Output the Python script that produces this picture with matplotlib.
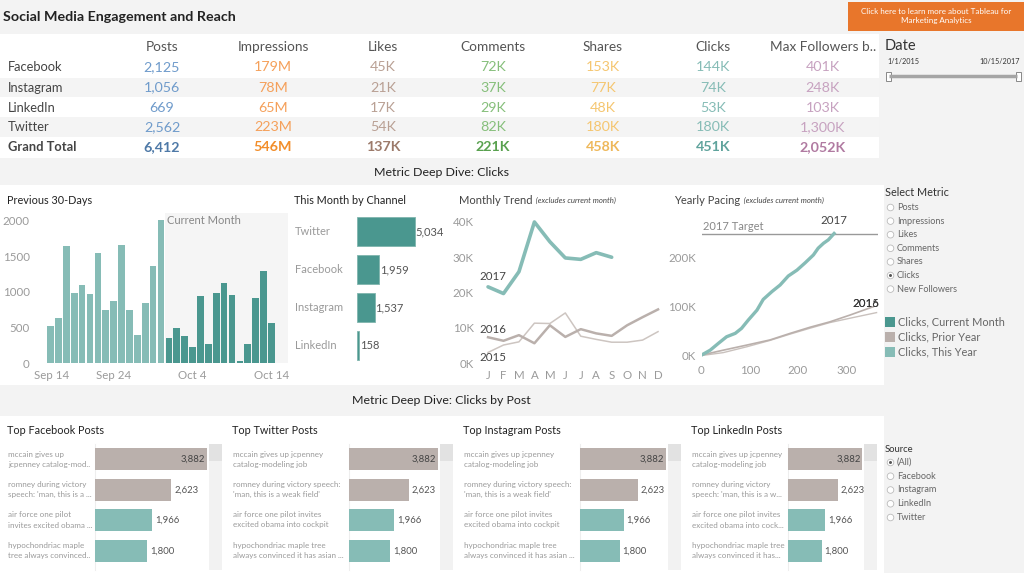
import matplotlib
matplotlib.use('Agg')
import matplotlib.pyplot as plt
from matplotlib.patches import Rectangle, Circle
from matplotlib.ticker import FuncFormatter

plt.rcParams['font.family'] = ['Lato', 'DejaVu Sans']

# ---- data ----
channels = ['Facebook', 'Instagram', 'LinkedIn', 'Twitter', 'Grand Total']
table_cols = ['Posts', 'Impressions', 'Likes', 'Comments', 'Shares', 'Clicks', 'Max Followers b..']
posts = ['2,125', '1,056', '669', '2,562', '6,412']
impressions = ['179M', '78M', '65M', '223M', '546M']
likes = ['45K', '21K', '17K', '54K', '137K']
comments = ['72K', '37K', '29K', '82K', '221K']
shares = ['153K', '77K', '48K', '180K', '458K']
clicks = ['144K', '74K', '53K', '180K', '451K']
followers = ['401K', '248K', '103K', '1,300K', '2,052K']

daily_prev = [520, 628, 1647, 986, 1093, 963, 1544, 740, 870, 1656, 740, 390, 847, 1358, 2005]
daily_curr = [358, 498, 377, 223, 940, 265, 977, 1126, 958, 33, 260, 907, 1288, 558]
day_ticks = ['Sep 14', 'Sep 24', 'Oct 4', 'Oct 14']

month_channels = ['Twitter', 'Facebook', 'Instagram', 'LinkedIn']
month_clicks = [5034, 1959, 1537, 158]

months = ['J', 'F', 'M', 'A', 'M', 'J', 'J', 'A', 'S', 'O', 'N', 'D']
trend_2017 = [21600, 19700, 25900, 40000, 34400, 29800, 29400, 31300, 30000]
trend_2016 = [7300, 6300, 7900, 5600, 10700, 7400, 9600, 8400, 7700, 10700, 13000, 15200]
trend_2015 = [3000, 5100, 6000, 11300, 11200, 14200, 7600, 6700, 5900, 5900, 6500, 8900]

pace_2017_day = [0, 18, 35, 52, 70, 83, 97, 115, 128, 146, 163, 180, 198, 215, 232, 242, 253, 263, 275]
pace_2017 = [1000, 11000, 25000, 38500, 45500, 55700, 72700, 93000, 115000, 131000, 144500,
             163000, 175000, 190000, 206000, 220000, 230000, 237000, 250000]
pace_2016_day = [0, 45, 94, 142, 184, 225, 266, 308, 356]
pace_2016 = [1000, 11000, 21500, 32000, 45500, 58000, 69000, 83000, 100000]
pace_2015_day = [0, 45, 94, 142, 184, 225, 266, 308, 363]
pace_2015 = [0, 6000, 18000, 31000, 44000, 56000, 67500, 76500, 88000]
target_2017 = 250000

metrics = ['Posts', 'Impressions', 'Likes', 'Comments', 'Shares', 'Clicks', 'New Followers']
sources = ['(All)', 'Facebook', 'Instagram', 'LinkedIn', 'Twitter']

post_values = [3882, 2623, 1966, 1800]
fb_posts = ["mccain gives up\njcpenney catalog-mod..", "romney during victory\nspeech: 'man, this is a ...",
            "air force one pilot\ninvites excited obama ...", "hypochondriac maple\ntree always convinced.."]
tw_posts = ["mccain gives up jcpenney\ncatalog-modeling job", "romney during victory speech:\n'man, this is a weak field'",
            "air force one pilot invites\nexcited obama into cockpit", "hypochondriac maple tree\nalways convinced it has asian ..."]
ig_posts = ["mccain gives up jcpenney\ncatalog-modeling job", "romney during victory speech:\n'man, this is a weak field'",
            "air force one pilot invites\nexcited obama into cockpit", "hypochondriac maple tree\nalways convinced it has asian ..."]
li_posts = ["mccain gives up jcpenney\ncatalog-modeling job", "romney during victory\nspeech: 'man, this is a w...",
            "air force one pilot invites\nexcited obama into cock...", "hypochondriac maple tree\nalways convinced it has..."]

# ---- colours ----
TEAL = '#86bcb6'
TEAL_DARK = '#4a978f'
TAUPE = '#bab0ac'
TICK = '#9a9a9a'
DARK = '#222222'

W, H = 1024, 573
fig = plt.figure(figsize=(W / 100, H / 100), dpi=100)
fig.patch.set_facecolor('#f3f3f3')
bg = fig.add_axes([0, 0, 1, 1])
bg.set_xlim(0, W)
bg.set_ylim(H, 0)
bg.axis('off')


def box(x, y, w, h, color, **kw):
    bg.add_patch(Rectangle((x, y), w, h, color=color, lw=0, **kw))


def px_axes(x, y, w, h):
    ax = fig.add_axes([x / W, 1 - (y + h) / H, w / W, h / H])
    ax.patch.set_alpha(0)
    for s in ax.spines.values():
        s.set_visible(False)
    ax.tick_params(length=0, colors=TICK, labelsize=8.3)
    return ax


# panels
box(0, 34, 879, 124, 'white')
box(0, 185, 884, 200, 'white')
box(0, 416, 884, 157, 'white')
box(848, 2, 176, 29, '#e8762b')
bg.text(936, 16, 'Click here to learn more about Tableau for\nMarketing Analytics', color='white',
        fontsize=5.8, ha='center', va='center', linespacing=1.5)
bg.text(3, 17, 'Social Media Engagement and Reach', fontsize=10.3, fontweight='bold', color=DARK, va='center')

# ---- summary table ----
cols_x = [162, 273, 383, 493, 603, 713, 823]
rows_y = [67, 87.5, 107.5, 127, 147]
box(0, 77.5, 879, 19.5, '#f4f4f4')
box(0, 117, 879, 19.5, '#f4f4f4')
col_vals = [posts, impressions, likes, comments, shares, clicks, followers]
col_light = ['#6f9bcb', '#f5a05a', '#b9a094', '#86bf7b', '#f5c670', TEAL, '#c7a2c0']
col_bold = ['#4e79a7', '#f28e2b', '#9c7a6a', '#59a14f', '#eeb85a', '#5fa39c', '#b07aa1']
for cx, name in zip(cols_x, table_cols):
    bg.text(cx, 47, name, fontsize=9.8, color='#555555', ha='center', va='center')
for i, ry in enumerate(rows_y):
    total = i == len(rows_y) - 1
    bg.text(8, ry, channels[i], fontsize=9.3, color='#444444', va='center',
            fontweight='bold' if total else 'normal')
    for cx, vals, cl, cb in zip(cols_x, col_vals, col_light, col_bold):
        bg.text(cx, ry, vals[i], fontsize=10.3, ha='center', va='center',
                color=cb if total else cl, fontweight='bold' if total else 'normal')

# ---- right filter panel ----
bg.text(885, 46, 'Date', fontsize=10.5, color='#333333', va='center')
bg.text(887, 62, '1/1/2015', fontsize=5.2, color='#333333', va='center')
bg.text(1020, 62, '10/15/2017', fontsize=5.2, color='#333333', va='center', ha='right')
bg.plot([889, 1017], [76, 76], color='#a5a5a5', lw=2.5, solid_capstyle='butt')
for hx in (886, 1016):
    bg.add_patch(Rectangle((hx, 71.5), 5, 9, fc='white', ec='#888888', lw=0.7))

bg.text(885, 193, 'Select Metric', fontsize=7.8, color='#333333', va='center')
for i, m in enumerate(metrics):
    yy = 207.5 + i * 13.6
    bg.add_patch(Circle((890.5, yy), 3.3, fc='white', ec='#bbbbbb', lw=0.6))
    if m == 'Clicks':
        bg.add_patch(Circle((890.5, yy), 1.5, fc='#555555', lw=0))
    bg.text(897, yy, m, fontsize=6.6, color='#666666', va='center')

legend_items = [('Clicks, Current Month', TEAL_DARK), ('Clicks, Prior Year', TAUPE), ('Clicks, This Year', TEAL)]
for i, (lab, c) in enumerate(legend_items):
    yy = 322 + i * 15
    box(885, yy - 5, 10, 10, c)
    bg.text(898, yy, lab, fontsize=7.9, color='#666666', va='center')

bg.text(885, 449, 'Source', fontsize=6.8, color='#333333', va='center')
for i, s in enumerate(sources):
    yy = 462.5 + i * 13.75
    bg.add_patch(Circle((890.5, yy), 3.3, fc='white', ec='#bbbbbb', lw=0.6))
    if s == '(All)':
        bg.add_patch(Circle((890.5, yy), 1.5, fc='#555555', lw=0))
    bg.text(897, yy, s, fontsize=6.6, color='#666666', va='center')

# section headers
bg.text(441, 172, 'Metric Deep Dive: Clicks', fontsize=8.9, color=DARK, ha='center', va='center')
bg.text(441, 401, 'Metric Deep Dive: Clicks by Post', fontsize=8.9, color=DARK, ha='center', va='center')

# chart titles
bg.text(7, 200, 'Previous 30-Days', fontsize=7.8, color=DARK, va='center')
bg.text(294, 200, 'This Month by Channel', fontsize=7.8, color=DARK, va='center')
t3 = bg.text(459, 200, 'Monthly Trend', fontsize=8, color='#444444', va='center')
bg.annotate('  (excludes current month)', xy=(1, 0.5), xycoords=t3, va='center', fontsize=5.6,
            style='italic', color='#444444')
t4 = bg.text(674, 200, 'Yearly Pacing', fontsize=8, color='#444444', va='center')
bg.annotate('  (excludes current month)', xy=(1, 0.5), xycoords=t4, va='center', fontsize=5.6,
            style='italic', color='#444444')

# ---- previous 30 days ----
ax1 = px_axes(45, 213, 243, 150)
n_prev = len(daily_prev)
xp = list(range(n_prev))
xc = list(range(n_prev, n_prev + len(daily_curr)))
ax1.axvspan(n_prev - 0.5, 31, color='#f5f5f5', lw=0, zorder=0)
ax1.bar(xp, daily_prev, width=0.85, color=TEAL, zorder=2)
ax1.bar(xc, daily_curr, width=0.85, color=TEAL_DARK, zorder=2)
ax1.text(n_prev - 0.2, 2000, 'Current Month', fontsize=8, color='#888888', va='center')
ax1.set_xlim(-0.7, 30.1)
ax1.set_ylim(0, 2108)
ax1.set_yticks([0, 500, 1000, 1500, 2000])
ax1.set_xticks([0.2, 8, 18, 28])
ax1.set_xticklabels(day_ticks)
ax1.tick_params(axis='y', pad=11)
ax1.tick_params(axis='x', pad=5)

# ---- this month by channel ----
ax2 = px_axes(357, 212.5, 100, 152)
ypos = list(range(len(month_channels)))
ax2.barh(ypos, month_clicks, height=0.74, color=TEAL_DARK, edgecolor='#7fb5ae', lw=0.6)
for yv, v, name in zip(ypos, month_clicks, month_channels):
    ax2.text(v + 80, yv, f'{v:,}', fontsize=8, color='#555555', va='center')
    ax2.text(-0.62, yv, name, fontsize=8, color=TICK, va='center',
             transform=ax2.get_yaxis_transform())
ax2.set_xlim(0, 8724)
ax2.set_ylim(3.5, -0.5)
ax2.set_xticks([])
ax2.set_yticks([])

# ---- monthly trend ----
ax3 = px_axes(478, 213, 187, 150)
ax3.plot(range(12), trend_2015, color='#cdc5c1', lw=1.1)
ax3.plot(range(12), trend_2016, color=TAUPE, lw=1.8)
ax3.plot(range(len(trend_2017)), trend_2017, color=TEAL, lw=2.6, solid_capstyle='round')
ax3.text(0.3, 24400, '2017', fontsize=8.3, color='#444444', ha='center', va='center')
ax3.text(0.3, 9600, '2016', fontsize=8.3, color='#444444', ha='center', va='center')
ax3.text(0.3, 1500, '2015', fontsize=8.3, color='#444444', ha='center', va='center')
ax3.set_xlim(-0.65, 11.45)
ax3.set_ylim(0, 42550)
ax3.set_xticks(range(12))
ax3.set_xticklabels(months)
ax3.set_yticks([0, 10000, 20000, 30000, 40000])
ax3.yaxis.set_major_formatter(FuncFormatter(lambda v, p: f'{v / 1000:.0f}K'))
ax3.tick_params(axis='y', pad=3)
ax3.tick_params(axis='x', pad=5)

# ---- yearly pacing ----
ax4 = px_axes(701.5, 213, 176.5, 145)
ax4.axhline(target_2017, color='#999999', lw=1)
ax4.text(3, target_2017 + 15000, '2017 Target', fontsize=8, color='#888888', va='center')
ax4.plot(pace_2015_day, pace_2015, color='#c9c1bd', lw=1)
ax4.plot(pace_2016_day, pace_2016, color=TAUPE, lw=1.2)
ax4.plot(pace_2017_day, pace_2017, color=TEAL, lw=2.4)
ax4.text(275, 276000, '2017', fontsize=8.3, color='#444444', ha='center', va='center')
ax4.text(341, 107600, '2015', fontsize=8.3, color='#444444', ha='center', va='center')
ax4.text(341, 107600, '2016', fontsize=8.3, color='#333333', ha='center', va='center')
ax4.set_xlim(0, 366)
ax4.set_ylim(-5000, 292000)
ax4.set_xticks([0, 100, 200, 300])
ax4.set_yticks([0, 100000, 200000])
ax4.yaxis.set_major_formatter(FuncFormatter(lambda v, p: f'{v / 1000:.0f}K'))
ax4.tick_params(axis='y', pad=4)
ax4.tick_params(axis='x', pad=5)

# ---- top posts ----
panels = [('Top Facebook Posts', 7, 95, 207, fb_posts),
          ('Top Twitter Posts', 232, 349, 438, tw_posts),
          ('Top Instagram Posts', 463, 580, 666, ig_posts),
          ('Top LinkedIn Posts', 691, 788, 862, li_posts)]
post_colors = [TAUPE, TAUPE, TEAL, TEAL]
for title, tx, x0, x1, labels in panels:
    bg.text(tx, 431, title, fontsize=7.8, color=DARK, va='center')
    box(x1 + 2, 444, 13, 126, '#f2f2f2')
    box(x1 + 2, 444, 13, 17, '#e2e2e2')
    bg.plot([x0 - 0.5, x0 - 0.5], [444, 570], color='#eeeeee', lw=0.8)
    ax = px_axes(x0, 444, x1 - x0, 122)
    rows = list(range(len(post_values)))
    ax.barh(rows, post_values, height=0.72, color=post_colors)
    for r, v, lab in zip(rows, post_values, labels):
        if r == 0:
            ax.text(v - 80, r, f'{v:,}', fontsize=6.8, color='#444444', ha='right', va='center')
        else:
            ax.text(v + 120, r, f'{v:,}', fontsize=6.8, color='#555555', ha='left', va='center')
        bg.text(tx + 1, 459 + r * 30.5, lab, fontsize=5.8, color='#9a9a9a', va='center', linespacing=1.5)
    ax.set_xlim(0, 3882)
    ax.set_ylim(3.5, -0.5)
    ax.set_xticks([])
    ax.set_yticks([])

fig.savefig('out.png', dpi=100, facecolor=fig.get_facecolor())
